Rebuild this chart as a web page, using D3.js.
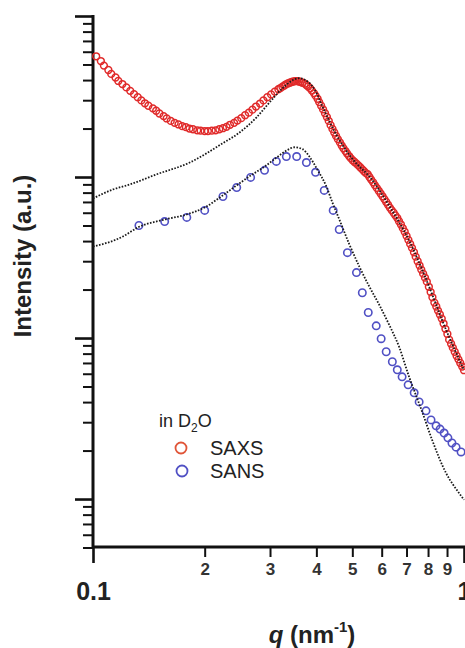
<!DOCTYPE html>
<html>
<head>
<meta charset="utf-8">
<script src="https://cdn.jsdelivr.net/npm/d3@7"></script>
<style>
  body { margin: 0; background: #fff; }
  svg { display: block; }
  text { font-family: "Liberation Sans", Arial, sans-serif; }
</style>
</head>
<body>
<svg id="chart" width="465" height="648"></svg>
<script>
// SAXS points (red open circles), q in nm^-1
var saxsQ = [0.102, 0.105, 0.107, 0.110, 0.112, 0.115, 0.117, 0.120, 0.123, 0.126,
             0.129, 0.132, 0.135, 0.138, 0.141, 0.145, 0.148, 0.151, 0.155, 0.158,
             0.162, 0.166, 0.170, 0.174, 0.178, 0.182, 0.186, 0.191, 0.195, 0.200,
             0.204, 0.209, 0.214, 0.219, 0.224, 0.229, 0.234, 0.240, 0.245, 0.251,
             0.257, 0.263, 0.269, 0.275, 0.282, 0.288, 0.295, 0.302, 0.309, 0.316,
             0.320, 0.324, 0.328, 0.331, 0.335, 0.339, 0.343, 0.347, 0.351, 0.355,
             0.359, 0.363, 0.367, 0.372, 0.376, 0.380, 0.385, 0.389, 0.394, 0.398,
             0.403, 0.407, 0.412, 0.417, 0.422, 0.427, 0.432, 0.437, 0.442, 0.447,
             0.452, 0.457, 0.463, 0.468, 0.473, 0.479, 0.484, 0.490, 0.495, 0.501,
             0.507, 0.513, 0.519, 0.525, 0.531, 0.537, 0.543, 0.550, 0.556, 0.562,
             0.569, 0.575, 0.582, 0.589, 0.596, 0.603, 0.610, 0.617, 0.624, 0.631,
             0.638, 0.646, 0.653, 0.661, 0.668, 0.676, 0.684, 0.692, 0.700, 0.708,
             0.716, 0.724, 0.733, 0.741, 0.750, 0.759, 0.767, 0.776, 0.785, 0.794,
             0.804, 0.813, 0.822, 0.832, 0.842, 0.851, 0.861, 0.871, 0.881, 0.891,
             0.902, 0.912, 0.923, 0.933, 0.944, 0.955, 0.966, 0.977, 0.989, 1.000];
var saxsI = [562, 525, 492, 462, 437, 415, 395, 378, 360, 343,
             327, 313, 299, 287, 277, 267, 258, 248, 239, 231,
             223, 217, 212, 207, 204, 200, 198, 195, 194, 193,
             193, 194, 195, 198, 201, 205, 211, 217, 224, 232,
             242, 251, 262, 274, 286, 299, 313, 326, 339, 351,
             357, 364, 370, 376, 381, 385, 389, 392, 394, 394,
             392, 389, 385, 380, 373, 365, 355, 344, 332, 320,
             306, 292, 277, 263, 249, 236, 223, 210, 199, 189,
             180, 172, 164, 157, 151, 145, 140, 135, 131, 127,
             124, 121, 118, 115, 112, 109, 106, 104, 100, 96.4,
             92.7, 89.1, 85.6, 82.2, 79.0, 75.9, 72.9, 70.0, 67.2, 64.6,
             62.3, 60.0, 57.8, 55.6, 53.1, 50.7, 48.1, 45.7, 43.1, 40.7,
             38.4, 36.3, 34.1, 32.0, 30.0, 28.2, 26.6, 25.1, 23.7, 22.4,
             20.8, 19.3, 17.9, 16.6, 15.7, 14.8, 14.0, 13.2, 12.3, 11.4,
             10.6, 9.77, 9.22, 8.71, 8.22, 7.76, 7.37, 7.00, 6.65, 6.31];

// SANS points (blue open circles)
var sansQ = [0.133, 0.156, 0.179, 0.200, 0.224, 0.244, 0.266, 0.290, 0.312, 0.332,
             0.354, 0.376, 0.398, 0.420, 0.444, 0.461, 0.485, 0.513, 0.532, 0.552,
             0.580, 0.598, 0.617, 0.641, 0.661, 0.681, 0.707, 0.734, 0.757, 0.790,
             0.815, 0.841, 0.862, 0.884, 0.905, 0.928, 0.952, 0.982];
var sansI = [50.0, 52.9, 56.1, 62.0, 75.7, 86.1, 99.4, 110, 125, 134,
             134, 123, 107, 82.6, 62.0, 47.2, 33.9, 25.5, 19.1, 14.4,
             11.9, 9.90, 8.22, 7.12, 6.35, 5.74, 5.12, 4.57, 4.01, 3.53,
             3.10, 2.85, 2.72, 2.57, 2.40, 2.23, 2.10, 1.96];

// model fits (black dotted)
var fitSaxsQ = [0.100, 0.1132, 0.1257, 0.1486, 0.1823, 0.2236, 0.2483, 0.2761, 0.2992, 0.3243,
                0.3491, 0.3606, 0.3715, 0.3954, 0.417, 0.447, 0.501, 0.562, 0.631, 0.708,
                0.794, 0.891, 1.0];
var fitSaxsI = [73.6, 83.7, 89.9, 104, 123, 162, 189, 235, 291, 356,
                404, 411, 403, 351, 269, 193, 129, 97.7, 65.3, 41.2,
                22.6, 11.5, 6.31];
var fitSansQ = [0.100, 0.1204, 0.1321, 0.1562, 0.1789, 0.2000, 0.2236, 0.2438, 0.2659, 0.2900,
                0.3124, 0.3323, 0.3491, 0.3669, 0.3831, 0.4026, 0.4256, 0.4418, 0.4613, 0.4910,
                0.5222, 0.5554, 0.5907, 0.6283, 0.6683, 0.7113, 0.7714, 0.8204, 0.8945, 0.9696, 1.0];
var fitSansI = [37.0, 42.7, 48.6, 54.5, 58.5, 64.7, 76.8, 88.7, 102, 116,
                132, 146, 153, 149, 134, 111, 87.4, 69.5, 54.5, 38.1,
                27.8, 20.9, 16.1, 12.1, 8.83, 5.74, 3.48, 2.33, 1.45, 1.09, 0.99];

// axis ticks
var xMajor = [0.1, 1];
var xMinor = [0.2, 0.3, 0.4, 0.5, 0.6, 0.7, 0.8, 0.9];
var yMajor = [1, 10, 100, 1000];

var svg = d3.select("#chart");

var x = d3.scaleLog().domain([0.1, 1]).range([93, 464]);
var y = d3.scaleLog().domain([0.5, 1000]).range([547.5, 16]);

// ---- axes
// y minor ticks
var yMinor = y.ticks().filter(function(d) { return yMajor.indexOf(d) < 0; });
var gyMinor = svg.append("g").attr("transform", "translate(93,0)")
    .call(d3.axisLeft(y).tickValues(yMinor).tickSize(10).tickFormat(""));
var gyMajor = svg.append("g").attr("transform", "translate(93,0)")
    .call(d3.axisLeft(y).tickValues(yMajor).tickSize(18).tickFormat(""));

var gxMinor = svg.append("g").attr("transform", "translate(0,547)")
    .call(d3.axisBottom(x).tickValues(xMinor).tickSize(10)
        .tickFormat(function(d) { return Math.round(d * 10); }));
var gxMajor = svg.append("g").attr("transform", "translate(0,547)")
    .call(d3.axisBottom(x).tickValues(xMajor).tickSize(16)
        .tickFormat(function(d) { return d; }));

[gyMinor, gyMajor, gxMinor, gxMajor].forEach(function(g) {
    g.select(".domain").remove();
});
gyMinor.selectAll("line").attr("stroke", "#111").attr("stroke-width", 2);
gyMajor.selectAll("line").attr("stroke", "#111").attr("stroke-width", 2.6);
gxMinor.selectAll("line").attr("stroke", "#111").attr("stroke-width", 2);
gxMajor.selectAll("line").attr("stroke", "#111").attr("stroke-width", 2.6);

gxMinor.selectAll("text")
    .attr("y", 16).attr("dy", "0.71em")
    .attr("font-size", 17).attr("font-weight", "bold").attr("fill", "#333")
    .attr("font-family", "'Liberation Sans', Arial, sans-serif");
gxMajor.selectAll("text")
    .attr("y", 35).attr("dy", "0.71em")
    .attr("font-size", 25).attr("font-weight", "bold").attr("fill", "#222")
    .attr("font-family", "'Liberation Sans', Arial, sans-serif");

// axis lines
svg.append("line")
    .attr("x1", 93).attr("x2", 93).attr("y1", y(1000) - 1).attr("y2", 547)
    .attr("stroke", "#111").attr("stroke-width", 3);
svg.append("line")
    .attr("x1", 93).attr("x2", 465).attr("y1", 547).attr("y2", 547)
    .attr("stroke", "#111").attr("stroke-width", 3);

// ---- data
var saxs = d3.zip(saxsQ, saxsI);
var sans = d3.zip(sansQ, sansI);

svg.append("g").selectAll("circle").data(saxs).join("circle")
    .attr("cx", function(d) { return x(d[0]); })
    .attr("cy", function(d) { return y(d[1]); })
    .attr("r", 3.4)
    .attr("fill", "none")
    .attr("stroke", "#e02a2a")
    .attr("stroke-width", 1.5);

svg.append("g").selectAll("circle").data(sans).join("circle")
    .attr("cx", function(d) { return x(d[0]); })
    .attr("cy", function(d) { return y(d[1]); })
    .attr("r", 3.7)
    .attr("fill", "none")
    .attr("stroke", "#5050c4")
    .attr("stroke-width", 1.6);

var line = d3.line()
    .x(function(d) { return x(d[0]); })
    .y(function(d) { return y(d[1]); })
    .curve(d3.curveMonotoneX);

[d3.zip(fitSaxsQ, fitSaxsI), d3.zip(fitSansQ, fitSansI)].forEach(function(fit) {
    svg.append("path")
        .datum(fit)
        .attr("d", line)
        .attr("fill", "none")
        .attr("stroke", "#1a1a1a")
        .attr("stroke-width", 1.8)
        .attr("stroke-dasharray", "1.6,1.5");
});

// ---- titles
svg.append("text")
    .attr("transform", "translate(31,256) rotate(-90)")
    .attr("text-anchor", "middle")
    .attr("font-size", 24).attr("font-weight", "bold").attr("fill", "#222")
    .text("Intensity (a.u.)");

var xt = svg.append("text")
    .attr("x", 312).attr("y", 643)
    .attr("text-anchor", "middle")
    .attr("font-size", 24).attr("font-weight", "bold").attr("fill", "#222");
xt.append("tspan").attr("font-style", "italic").text("q");
xt.append("tspan").text(" (nm");
xt.append("tspan").attr("font-size", 15).attr("dy", -11).text("-1");
xt.append("tspan").attr("dy", 11).text(")");

// ---- legend
var lg = svg.append("g").attr("fill", "#222");
var t0 = lg.append("text").attr("x", 159).attr("y", 427).attr("font-size", 18);
t0.append("tspan").text("in D");
t0.append("tspan").attr("font-size", 12).attr("dy", 5).text("2");
t0.append("tspan").attr("dy", -5).text("O");

lg.append("circle").attr("cx", 181).attr("cy", 448).attr("r", 5.5)
    .attr("fill", "none").attr("stroke", "#e05538").attr("stroke-width", 1.8);
lg.append("text").attr("x", 210).attr("y", 455).attr("font-size", 20).text("SAXS");
lg.append("circle").attr("cx", 182).attr("cy", 471).attr("r", 5.5)
    .attr("fill", "none").attr("stroke", "#5050c4").attr("stroke-width", 1.8);
lg.append("text").attr("x", 210).attr("y", 478).attr("font-size", 20).text("SANS");
</script>
</body>
</html>
